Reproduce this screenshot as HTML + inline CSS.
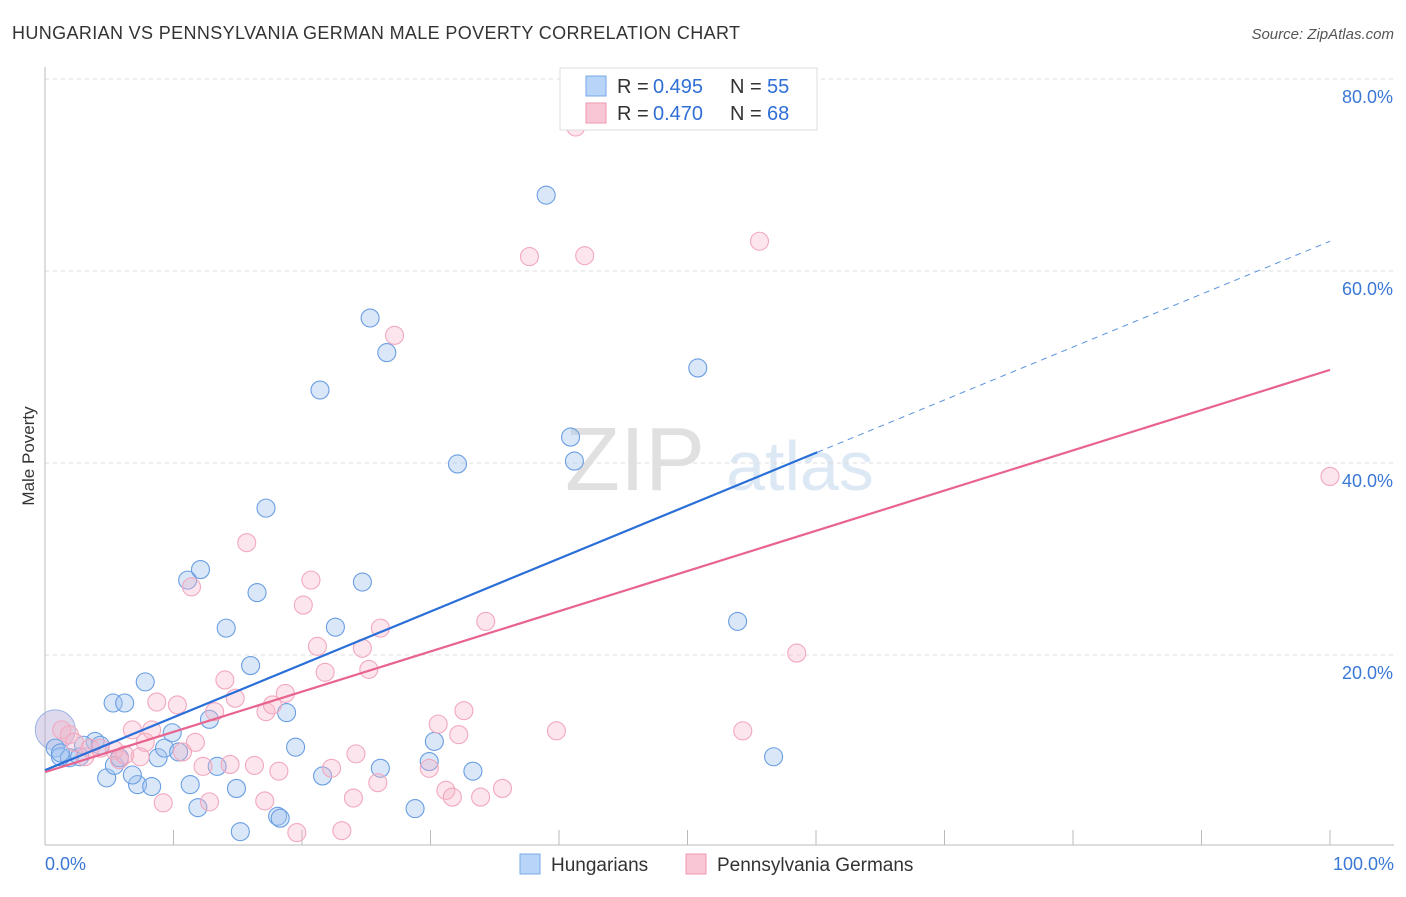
<!DOCTYPE html>
<html><head><meta charset="utf-8"><style>
body{margin:0;background:#fff;font-family:"Liberation Sans",sans-serif}
svg text{font-family:"Liberation Sans",sans-serif}
</style></head><body>
<svg id="c" width="1406" height="892">
<text x="12" y="39" font-size="18" fill="#333" textLength="728">HUNGARIAN VS PENNSYLVANIA GERMAN MALE POVERTY CORRELATION CHART</text>
<text x="1394" y="39" font-size="15" fill="#555" text-anchor="end" font-style="italic">Source: ZipAtlas.com</text>
<text x="34" y="456" font-size="17" fill="#333" text-anchor="middle" transform="rotate(-90 34 456)">Male Poverty</text>
<g><text x="635" y="490" font-size="90" fill="#d4d4d4" font-family="Liberation Serif" text-anchor="middle" opacity="0.7">ZIP</text><text x="800" y="490" font-size="70" fill="#c8daf0" text-anchor="middle" opacity="0.6">atlas</text></g>
<g id="grid"></g><g id="pts"></g><g id="lines"></g>
<g>
<rect x="560" y="68" width="257" height="62" fill="#fff" stroke="#ddd"/>
<rect x="586" y="76" width="20" height="20" fill="#b8d4f6" stroke="#7aa8e8"/>
<text x="617" y="93" font-size="20" fill="#333">R =</text>
<text x="653" y="93" font-size="20" fill="#2f6fd6">0.495</text>
<text x="730" y="93" font-size="20" fill="#333">N =</text>
<text x="767" y="93" font-size="20" fill="#2f6fd6">55</text>
<rect x="586" y="103" width="20" height="20" fill="#f8c6d4" stroke="#ef9ab2"/>
<text x="617" y="120" font-size="20" fill="#333">R =</text>
<text x="653" y="120" font-size="20" fill="#2f6fd6">0.470</text>
<text x="730" y="120" font-size="20" fill="#333">N =</text>
<text x="767" y="120" font-size="20" fill="#2f6fd6">68</text>
</g>
<g>
<rect x="520" y="854" width="20" height="20" fill="#b8d4f6" stroke="#7aa8e8"/>
<text x="551" y="871" font-size="19" fill="#333">Hungarians</text>
<rect x="686" y="854" width="20" height="20" fill="#f8c6d4" stroke="#ef9ab2"/>
<text x="717" y="871" font-size="19" fill="#333">Pennsylvania Germans</text>
</g>
</svg>
<script>
const yTicks=[20,40,60,80];
const xTickLabels=["0.0%","100.0%"];
const hungariansPx=[[55,748],[60,757],[70,758],[80,757],[95,741],[100,745],[107,778],[115,765],[120,758],[113,703],[125,703],[145,682],[137,785],[133,775],[152,787],[158,758],[164,748],[172,733],[178,752],[187,580],[200,570],[190,785],[198,808],[209,719],[217,766],[226,628],[237,788],[240,832],[250,666],[257,593],[266,508],[278,816],[280,818],[287,713],[296,747],[320,390],[323,776],[336,627],[362,582],[370,318],[381,768],[387,353],[415,809],[429,762],[434,741],[457,464],[473,771],[546,195],[571,437],[574,461],[698,368],[737,621],[774,757],[60,753],[84,745]];
const germansPx=[[62,730],[70,735],[75,742],[85,757],[90,748],[100,748],[115,750],[120,760],[125,755],[133,730],[140,757],[145,742],[152,730],[157,702],[163,803],[177,705],[183,752],[192,587],[195,742],[203,766],[209,802],[215,712],[225,680],[230,764],[235,698],[247,543],[255,765],[265,801],[266,712],[272,705],[279,771],[285,693],[297,833],[303,605],[311,580],[318,646],[325,672],[332,768],[342,831],[353,798],[356,754],[363,648],[369,669],[381,628],[378,783],[395,335],[429,768],[438,724],[446,790],[452,797],[459,735],[464,711],[480,797],[486,621],[503,788],[530,257],[556,731],[576,127],[585,256],[743,731],[759,241],[797,653],[1330,476]];
const hungariansX=hungariansPx.map(p=>+((p[0]-45)/12.85).toFixed(1));
const hungariansY=hungariansPx.map(p=>+((847-p[1])/9.6).toFixed(1));
const germansX=germansPx.map(p=>+((p[0]-45)/12.85).toFixed(1));
const germansY=germansPx.map(p=>+((847-p[1])/9.6).toFixed(1));
const blueTrend=[8.0,63.1], blueSolidEnd=60.1;
const pinkTrend=[7.8,49.7];
const X=v=>45+v*12.85, Y=v=>847-v*9.6;
const NS="http://www.w3.org/2000/svg";
function mk(tag,attrs,parent){const e=document.createElementNS(NS,tag);for(const k in attrs)e.setAttribute(k,attrs[k]);parent.appendChild(e);return e;}
const g=document.getElementById('grid');
yTicks.forEach(t=>{
 const l=mk('line',{x1:45,x2:1394,y1:Y(t),y2:Y(t),stroke:'#ddd','stroke-dasharray':'4,4'},g);
 
 
 const tx=mk('text',{x:1393,y:Y(t)+24,'font-size':18,fill:'#3a78d6','text-anchor':'end'},g);
 tx.textContent=t.toFixed(1)+'%';
 
 
});
const ax=mk('line',{x1:45,x2:1394,y1:845,y2:845,stroke:'#bbb'},g);


const ay=mk('line',{x1:45,x2:45,y1:67,y2:845,stroke:'#bbb'},g);


for(let i=1;i<=10;i++){const t=mk('line',{x1:X(i*10),x2:X(i*10),y1:830,y2:845,stroke:'#bbb'},g);
 
 }
[[0,'start',45],[100,'end',1394]].forEach((d,i)=>{const t=mk('text',{x:d[2],y:870,'font-size':18,fill:'#3a78d6','text-anchor':d[1]},g);t.textContent=xTickLabels[i];
 
 });
const pg=document.getElementById('pts');
const bb=mk('circle',{cx:X(0.8),cy:Y(12.2),r:20,fill:'rgba(184,170,215,0.45)',stroke:'#9ab4e6'},pg);


hungariansX.forEach((x,i)=>{const c=mk('circle',{cx:X(x),cy:Y(hungariansY[i]),r:9,fill:'rgba(160,196,240,0.4)',stroke:'#6a9ee2','stroke-width':1.1},pg);
 
 });
germansX.forEach((x,i)=>{const c=mk('circle',{cx:X(x),cy:Y(germansY[i]),r:9,fill:'rgba(246,180,200,0.35)',stroke:'#f2a8be','stroke-width':1.1},pg);
 
 });
const lg=document.getElementById('lines');
const by=v=>blueTrend[0]+(blueTrend[1]-blueTrend[0])*v/100;
const l1=mk('line',{x1:X(0),y1:Y(by(0)),x2:X(blueSolidEnd),y2:Y(by(blueSolidEnd)),stroke:'#2a6fd8','stroke-width':2.2},lg);


const l2=mk('line',{x1:X(blueSolidEnd),y1:Y(by(blueSolidEnd)),x2:X(100),y2:Y(by(100)),stroke:'#5b93e0','stroke-width':1,'stroke-dasharray':'6,5'},lg);


const l3=mk('line',{x1:X(0),y1:Y(pinkTrend[0]),x2:X(100),y2:Y(pinkTrend[1]),stroke:'#e8648e','stroke-width':2.2},lg);


</script>
</body></html>
